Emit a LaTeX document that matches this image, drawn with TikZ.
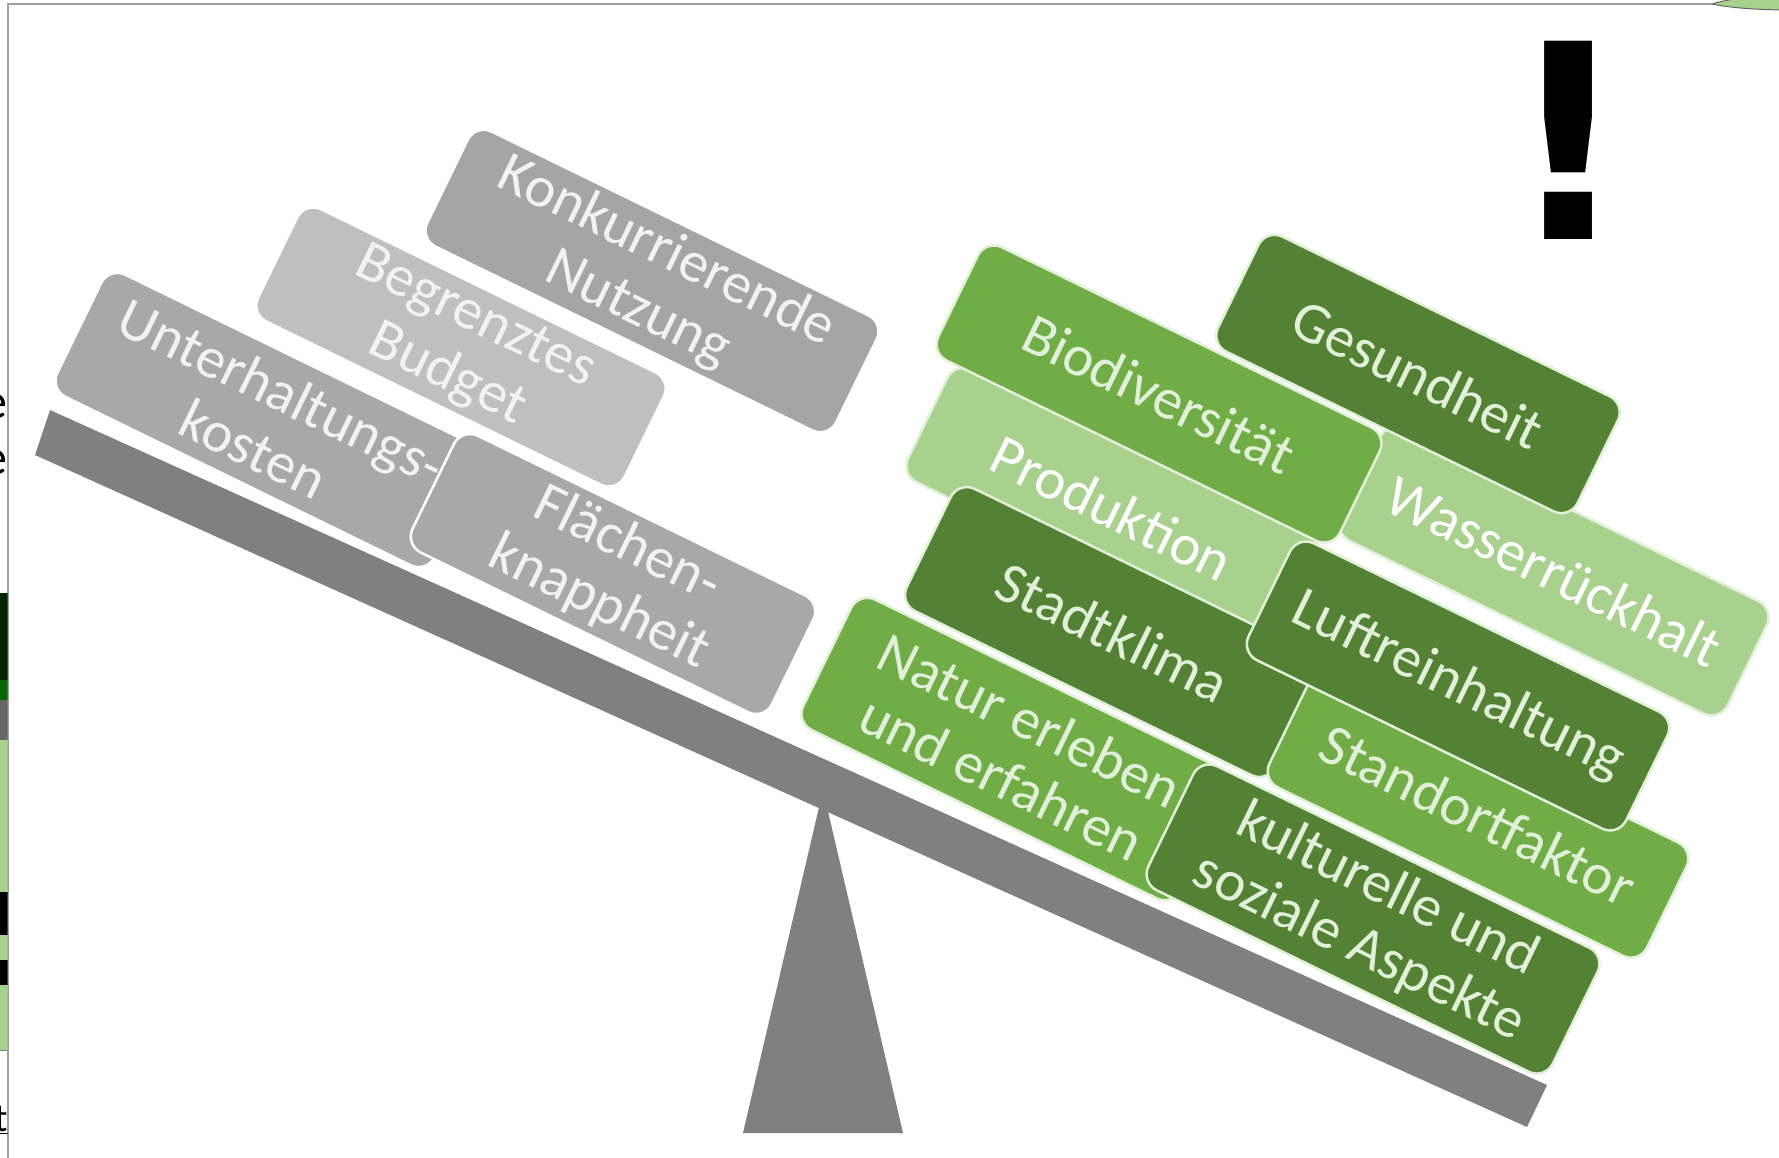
\documentclass[tikz,border=0pt]{standalone}
\usepackage{fontspec}
\setmainfont{Carlito}
\newfontfamily\bangfont{DejaVu Sans}
\definecolor{grA}{HTML}{A5A5A5}
\definecolor{grB}{HTML}{BFBFBF}
\definecolor{grC}{HTML}{A8A8A8}
\definecolor{beamgray}{HTML}{808080}
\definecolor{gnD}{HTML}{548235}
\definecolor{gnM}{HTML}{70AD47}
\definecolor{gnL}{HTML}{A9D18E}
\definecolor{gnTxt}{HTML}{E2F0D9}
\definecolor{framegray}{HTML}{A0A0A0}
\begin{document}
\begin{tikzpicture}[x=1pt,y=-1pt,
  blk/.style={line width=2.5pt, rounded corners=18pt, rotate=-26, align=center,
    inner sep=0pt, font=\fontsize{58}{64}\selectfont},
  grayblk/.style={blk, draw=white, text=white!95!black},
  greenblk/.style={blk, draw=gnTxt, text=gnTxt},
  sz/.style 2 args={minimum width=#1pt, minimum height=#2pt}
]
\useasboundingbox (0,0) rectangle (1779,1158);
\fill[white] (0,0) rectangle (1779,1158);

% frame remnants
\draw[framegray, line width=1.5pt] (8,1158) -- (8,4) -- (1712,4);
\filldraw[fill=gnL, draw=black!60, line width=1pt] (1712,4) .. controls (1730,-2) and (1760,-4) .. (1790,-6) -- (1790,10) .. controls (1760,10) and (1730,8) .. (1712,4);
\begin{scope}
  \clip (0,0) rectangle (7.5,1158);
  \node[anchor=base east, font=\fontsize{50}{50}\selectfont, inner sep=0pt] (e1) at (8,418) {e};
  \node[anchor=base east, font=\fontsize{50}{50}\selectfont, inner sep=0pt] (e2) at (8,474) {e};
  \fill[black!85!green] (0,593) rectangle (8,680);
  \fill[black!60!green] (0,680) rectangle (8,700);
  \fill[gray!80!black] (0,700) rectangle (8,740);
  \fill[gnL] (0,740) rectangle (8,1050);
  \fill[black] (0,892) rectangle (8,935);
  \fill[black] (0,960) rectangle (8,985);
  \draw[gray, line width=1pt] (0,1050) -- (8,1050);
  \node[anchor=base east, font=\fontsize{40}{40}\selectfont, inner sep=0pt] (t1) at (8,1131) {\underline{t}};
\end{scope}

% fulcrum and beam
\fill[beamgray] (823,790) -- (903,1133) -- (743,1133) -- cycle;
\fill[beamgray] (50,410) -- (1547,1085) -- (1527,1127) -- (35,455) -- cycle;

% gray blocks
\node[grayblk, fill=grB, sz={408}{125}] (budget) at (461,347) {Begrenztes\\Budget};
\node[grayblk, fill=grA, sz={455}{128}] (konk) at (652,281) {Konkurrierende\\Nutzung};
\node[grayblk, fill=grC, sz={420}{136}] (unter) at (268,420) {Unterhaltungs-\\kosten};
\node[grayblk, fill=grC, sz={400}{130}] (flaeche) at (613,574) {Flächen-\\knappheit};

% green blocks
\node[greenblk, fill=gnL, sz={430}{125}, text=white] (wasser) at (1554,571) {Wasserrückhalt};
\node[greenblk, fill=gnD, sz={400}{128}] (gesund) at (1418,374) {Gesundheit};
\node[greenblk, fill=gnL, sz={410}{125}, text=white] (prod) at (1112,508) {Produktion};
\node[greenblk, fill=gnM, sz={447}{126}] (bio) at (1159,394) {Biodiversität};
\node[greenblk, fill=gnD, sz={410}{136}] (stadt) at (1113,632) {Stadtklima};
\node[greenblk, fill=gnM, sz={420}{126}] (standort) at (1478,815) {Standortfaktor};
\node[greenblk, fill=gnD, sz={420}{130}] (luft) at (1458,686) {Luftreinhaltung};
\node[greenblk, fill=gnM, sz={420}{145}] (natur) at (1016,749) {Natur erleben\\und erfahren};
\node[greenblk, fill=gnD, sz={450}{138}] (kultur) at (1373,919) {kulturelle und\\soziale Aspekte};

% exclamation mark
\node[anchor=base, inner sep=0pt, font=\bangfont\bfseries\fontsize{272}{272}\selectfont] (bang) at (1569,240) {!};
\end{tikzpicture}
\end{document}
